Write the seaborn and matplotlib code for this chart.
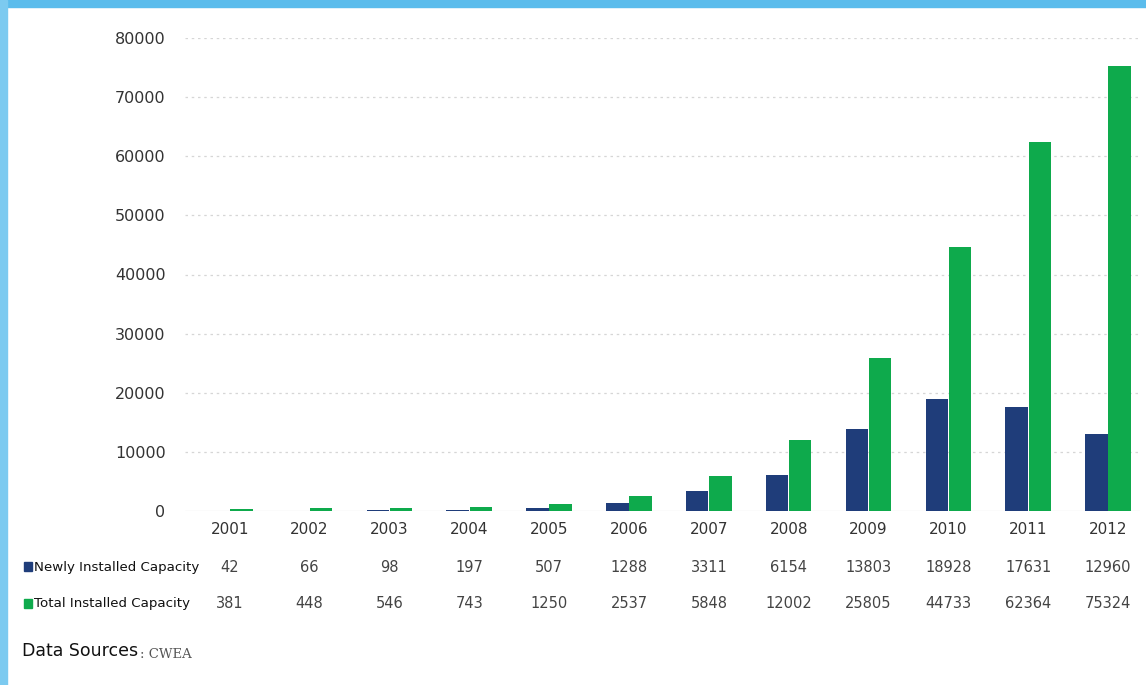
import numpy as np
import pandas as pd
import matplotlib
matplotlib.use("Agg")
import matplotlib.pyplot as plt
import matplotlib.transforms as mtransforms
from matplotlib.patches import Rectangle
import seaborn as sns

# ------------------------------------------------------------
# Dados (MW)
# ------------------------------------------------------------
years = ["2001", "2002", "2003", "2004", "2005", "2006",
         "2007", "2008", "2009", "2010", "2011", "2012"]
newly = [42, 66, 98, 197, 507, 1288, 3311, 6154, 13803, 18928, 17631, 12960]
total = [381, 448, 546, 743, 1250, 2537, 5848, 12002, 25805, 44733, 62364, 75324]
series_names = ["Newly Installed Capacity", "Total Installed Capacity"]
y_ticks = [0, 10000, 20000, 30000, 40000, 50000, 60000, 70000, 80000]
source_label = "Data Sources"
source_value = ": CWEA"

NAVY = "#1f3d7a"
GREEN = "#0eaa4c"

df = pd.DataFrame({
    "year": years * 2,
    "value": newly + total,
    "series": [series_names[0]] * len(years) + [series_names[1]] * len(years),
})

sns.set_theme(style="white")
plt.rcParams["font.family"] = ["DejaVu Sans"]

fig = plt.figure(figsize=(11.46, 6.85), dpi=100)
fig.patch.set_facecolor("white")

# moldura azul do slide (topo e lado esquerdo)
fig.patches.append(Rectangle((0, 1 - 7 / 685), 1, 7 / 685, transform=fig.transFigure,
                             color="#5bbcec", zorder=0))
fig.patches.append(Rectangle((0, 0), 7 / 1146, 1, transform=fig.transFigure,
                             color="#7ccaf0", zorder=0))

ax = fig.add_axes([185 / 1146, 1 - 511 / 685, (1140 - 185) / 1146, (511 - 38) / 685])

sns.barplot(data=df, x="year", y="value", hue="series",
            palette=[NAVY, GREEN], width=0.58, gap=0.03, ax=ax,
            legend=False, saturation=1, linewidth=0)

ax.set_xlim(-0.56, 11.4)
ax.set_ylim(0, 80000)
ax.set_yticks(y_ticks)
ax.set_yticklabels([str(t) for t in y_ticks], fontsize=11.5, color="#333333")
ax.tick_params(axis="y", pad=14, length=0)
ax.tick_params(axis="x", pad=8, length=0, labelsize=11, labelcolor="#333333")
ax.set_xlabel("")
ax.set_ylabel("")
for s in ax.spines.values():
    s.set_visible(False)
for t in y_ticks[1:]:
    ax.axhline(t, color="#d6d6d6", lw=0.9, ls=(0, (2, 3)), zorder=0)
ax.axhline(0, color="#bbbbbb", lw=0.8, zorder=0)

# ------------------------------------------------------------
# Tabela de dados abaixo do eixo
# ------------------------------------------------------------
trans = mtransforms.blended_transform_factory(ax.transData, fig.transFigure)
rows = [(newly, 1 - 567 / 685, NAVY, series_names[0]),
        (total, 1 - 604 / 685, GREEN, series_names[1])]
for vals, ypos, col, name in rows:
    for i, v in enumerate(vals):
        ax.text(i, ypos, str(v), transform=trans, ha="center", va="center",
                fontsize=10.5, color="#444444")
    fig.patches.append(Rectangle((24 / 1146, ypos - 4 / 685), 8 / 1146, 9 / 685,
                                 transform=fig.transFigure, color=col))
    fig.text(34 / 1146, ypos, name, ha="left", va="center", fontsize=9.6,
             color="#111111")

fig.text(22 / 1146, 1 - 651 / 685, source_label, ha="left", va="center",
         fontsize=12.5, color="#111111")
fig.text(140 / 1146, 1 - 655 / 685, source_value, ha="left", va="center",
         fontsize=9.5, color="#555555", family="DejaVu Serif")

fig.savefig("out.png", dpi=100)
